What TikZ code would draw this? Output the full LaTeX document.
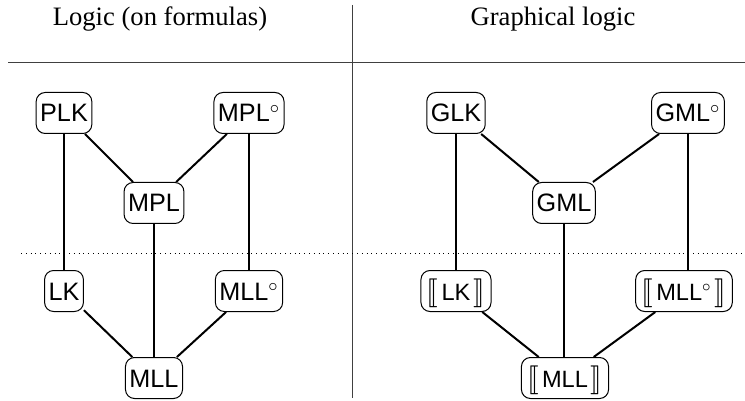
\documentclass[tikz,border=0pt]{standalone}
\usepackage{stmaryrd}
\usepackage{fontspec}
\setmainfont{Liberation Serif}
\setsansfont{Liberation Sans}
\usetikzlibrary{positioning}

% crochets de denotation
\newcommand{\brk}[1]{{\fontsize{14}{14}\selectfont$#1$}}
\newcommand{\denot}[1]{\brk{\llbracket}\kern1.5pt{\fontsize{11.8}{13}\selectfont #1}\kern1.5pt\brk{\rrbracket}}

\begin{document}
\begin{tikzpicture}[
		x=0.5pt, y=-0.5pt,
		logic/.style={draw, line width=0.5pt, rounded corners=4.5pt, inner xsep=2pt,
			minimum height=20.5pt, text height=9pt, text depth=0pt,
			font=\sffamily\fontsize{12.6}{14}\selectfont},
		title/.style={anchor=base, font=\fontsize{13.3}{15}\selectfont},
		link/.style={draw, line width=1pt},
		rule/.style={draw, line width=0.5pt, black!75}
		]
		\useasboundingbox (0,0) rectangle (745,401);

		% Le cadre
		\draw[rule] (352,5) -- (352,398);
		\draw[rule] (8,63) -- (745,63);
		\draw[dotted, line width=0.4pt] (21,253) -- (745,253);
		\node[title] (Tl) at (160,26) {Logic (on formulas)};
		\node[title] (Tr) at (553,26) {Graphical logic};

		% Les logiques
		\node[logic] (PLK) at (64,113) {PLK};
		\node[logic] (MPLo) at (249,113) {MPL$^\circ$};
		\node[logic] (MPL) at (154,203) {MPL};
		\node[logic] (LK) at (64,291) {LK};
		\node[logic] (MLLo) at (249,291) {MLL$^\circ$};
		\node[logic] (MLL) at (154,378) {MLL};

		% Les logiques graphiques
		\node[logic] (GLK) at (456,113) {GLK};
		\node[logic] (GMLo) at (688,113) {GML$^\circ$};
		\node[logic] (GML) at (564,203) {GML};
		\node[logic, inner xsep=3pt] (ILK) at (456,291) {\denot{LK}};
		\node[logic, inner xsep=3pt] (IMLLo) at (684,291) {\denot{MLL$^\circ$}};
		\node[logic, inner xsep=3pt] (IMLL) at (565,378) {\denot{MLL}};

		% Les liens
		\draw[link] (PLK) -- (LK);
		\draw[link] (PLK) -- (MPL);
		\draw[link] (MPLo) -- (MPL);
		\draw[link] (MPLo) -- (MLLo);
		\draw[link] (MPL) -- (MLL);
		\draw[link] (LK) -- (MLL);
		\draw[link] (MLLo) -- (MLL);

		\draw[link] (GLK) -- (ILK);
		\draw[link] (GLK) -- (GML);
		\draw[link] (GMLo) -- (GML);
		\draw[link] (GMLo.south) -- (GMLo.south |- IMLLo.north);
		\draw[link] (GML.south) -- (GML.south |- IMLL.north);
		\draw[link] (ILK) -- (IMLL);
		\draw[link] (IMLLo) -- (IMLL);
	\end{tikzpicture}
\end{document}
